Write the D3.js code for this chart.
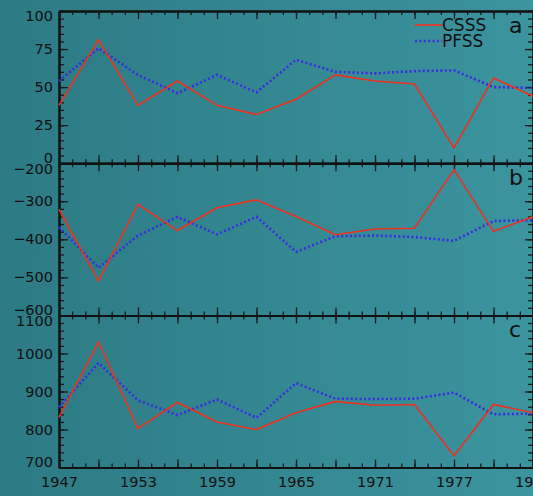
<!DOCTYPE html>
<html>
<head>
<meta charset="utf-8">
<script src="https://cdn.jsdelivr.net/npm/d3@7"></script>
<style>
  body { margin: 0; background: #33858f; }
  svg { display: block; }
  text { font-family: "DejaVu Sans", sans-serif; fill: #101010; }
</style>
</head>
<body>
<div id="vis"></div>
<script>
const WIDTH = 533;
const HEIGHT = 496;
const MARGINS = {left: 59, right: 0, top: 11, bottom: 28.5};
const PANEL_H = 152.2;

// data, one point every 3 years
const years = [1947, 1950, 1953, 1956, 1959, 1962, 1965, 1968, 1971, 1974, 1977, 1980, 1983];
const yearLabels = [1947, 1953, 1959, 1965, 1971, 1977, 1983];

const csssA = [38, 81, 38, 54, 38, 32, 42, 58, 54, 52, 10, 56, 44];
const pfssA = [54, 75.5, 58, 46, 58, 46.5, 68, 60, 59, 60.5, 61, 50, 49.5];

const csssB = [-321, -510, -308, -377, -317, -296, -340, -388, -373, -371, -217, -379, -341];
const pfssB = [-368, -475, -390, -341, -387, -341, -433, -392, -390, -394, -404, -352, -350];

const csssC = [832, 1030, 803, 871, 820, 800, 844, 874, 864, 866, 731, 866, 844];
const pfssC = [859, 975, 877, 838, 879, 831, 922, 881, 880, 881, 897, 840, 842];

const panelNames = ["a", "b", "c"];
const panelDomains = [[0, 100], [-600, -200], [700, 1100]];
const panelMajor = [25, 100, 100];
const panelMinor = [5, 20, 20];
const seriesNames = ["CSSS", "PFSS"];

const panels = [
  {name: panelNames[0], domain: panelDomains[0], major: panelMajor[0], minor: panelMinor[0], csss: csssA, pfss: pfssA},
  {name: panelNames[1], domain: panelDomains[1], major: panelMajor[1], minor: panelMinor[1], csss: csssB, pfss: pfssB},
  {name: panelNames[2], domain: panelDomains[2], major: panelMajor[2], minor: panelMinor[2], csss: csssC, pfss: pfssC}
];

const svg = d3.select("#vis").append("svg")
    .attr("width", WIDTH)
    .attr("height", HEIGHT);

const grad = svg.append("defs").append("linearGradient")
    .attr("id", "bg")
    .attr("x1", "0").attr("x2", "1").attr("y1", "0").attr("y2", "0");
grad.append("stop").attr("offset", "0").attr("stop-color", "#2c7a84");
grad.append("stop").attr("offset", "1").attr("stop-color", "#3b949e");

svg.append("rect")
    .attr("width", WIDTH).attr("height", HEIGHT)
    .attr("fill", "url(#bg)");

const X_SCALE = d3.scaleLinear()
    .domain([1947, 1983])
    .range([MARGINS.left, WIDTH]);

const yearTicks = d3.range(1947, 1984, 1);
const majorYears = d3.range(1947, 1984, 3);

function styleAxis(g) {
  g.attr("font-family", null);
  g.select(".domain").attr("stroke", "#111").attr("stroke-width", 2);
  g.selectAll(".tick line").attr("stroke", "#1a1a1a").attr("stroke-width", 1.3);
  g.selectAll("text").attr("font-size", 14.5).attr("fill", "#101010");
}

panels.forEach((p, i) => {
  const top = MARGINS.top + i * PANEL_H;
  const bottom = top + PANEL_H;

  const Y_SCALE = d3.scaleLinear()
      .domain(p.domain)
      .range([bottom, top]);

  const minorVals = d3.range(p.domain[0], p.domain[1] + 0.001, p.minor);
  const majorVals = d3.range(p.domain[0], p.domain[1] + 0.001, p.major);

  // left axis, minor then major with labels
  svg.append("g")
      .attr("transform", "translate(" + MARGINS.left + ",0)")
      .call(d3.axisLeft(Y_SCALE).tickValues(minorVals).tickSizeInner(-5).tickSizeOuter(0).tickFormat(""))
      .call(styleAxis);
  const yAxis = svg.append("g")
      .attr("transform", "translate(" + MARGINS.left + ",0)")
      .call(d3.axisLeft(Y_SCALE).tickValues(majorVals).tickSizeInner(-9).tickSizeOuter(0).tickPadding(6).tickFormat(d3.format("d")))
      .call(styleAxis);
  yAxis.selectAll(".tick text")
      .text(d => d < 0 ? "\u2212" + Math.abs(d) : d)
      .attr("dy", d => d === p.domain[1] ? "0.68em" : (d === p.domain[0] ? "-0.05em" : "0.32em"));

  // right axis
  svg.append("g")
      .attr("transform", "translate(" + WIDTH + ",0)")
      .call(d3.axisRight(Y_SCALE).tickValues(minorVals).tickSizeInner(-5).tickSizeOuter(0).tickFormat(""))
      .call(styleAxis);
  svg.append("g")
      .attr("transform", "translate(" + WIDTH + ",0)")
      .call(d3.axisRight(Y_SCALE).tickValues(majorVals).tickSizeInner(-8).tickSizeOuter(0).tickFormat(""))
      .call(styleAxis);

  // top axis
  svg.append("g")
      .attr("transform", "translate(0," + top + ")")
      .call(d3.axisTop(X_SCALE).tickValues(yearTicks).tickSizeInner(-4).tickSizeOuter(0).tickFormat(""))
      .call(styleAxis);
  svg.append("g")
      .attr("transform", "translate(0," + top + ")")
      .call(d3.axisTop(X_SCALE).tickValues(majorYears).tickSizeInner(-8).tickSizeOuter(0).tickFormat(""))
      .call(styleAxis);

  // bottom axis
  svg.append("g")
      .attr("transform", "translate(0," + bottom + ")")
      .call(d3.axisBottom(X_SCALE).tickValues(yearTicks).tickSizeInner(-4).tickSizeOuter(0).tickFormat(""))
      .call(styleAxis);
  svg.append("g")
      .attr("transform", "translate(0," + bottom + ")")
      .call(d3.axisBottom(X_SCALE).tickValues(majorYears).tickSizeInner(-8).tickSizeOuter(0).tickFormat(""))
      .call(styleAxis);

  if (i === panels.length - 1) {
    svg.append("g")
        .attr("transform", "translate(0," + bottom + ")")
        .call(d3.axisBottom(X_SCALE).tickValues(yearLabels).tickSize(0).tickPadding(9).tickFormat(d3.format("d")))
        .call(g => g.select(".domain").remove())
        .call(styleAxis);
  }

  const line = d3.line()
      .x((d, j) => X_SCALE(years[j]))
      .y(d => Y_SCALE(d));

  svg.append("path")
      .datum(p.pfss)
      .attr("d", line)
      .attr("fill", "none")
      .attr("stroke", "#3a2ee0")
      .attr("stroke-width", 2.6)
      .attr("stroke-dasharray", "2,2.4");

  svg.append("path")
      .datum(p.csss)
      .attr("d", line)
      .attr("fill", "none")
      .attr("stroke", "#f0301e")
      .attr("stroke-width", 1.6);

  svg.append("text")
      .attr("x", 509)
      .attr("y", top + 22)
      .attr("font-size", 22)
      .text(p.name);
});

// legend
const legend = svg.append("g");
legend.append("line")
    .attr("x1", 415).attr("x2", 442).attr("y1", 25).attr("y2", 25)
    .attr("stroke", "#f0301e").attr("stroke-width", 1.6);
legend.append("line")
    .attr("x1", 415).attr("x2", 442).attr("y1", 41).attr("y2", 41)
    .attr("stroke", "#3a2ee0").attr("stroke-width", 2.6).attr("stroke-dasharray", "2,2.4");
legend.selectAll(".lg")
    .data(seriesNames)
    .enter().append("text")
    .attr("x", 442)
    .attr("y", (d, j) => 25 + j * 16)
    .attr("dy", "0.36em")
    .attr("font-size", 17)
    .text(d => d);
</script>
</body>
</html>
